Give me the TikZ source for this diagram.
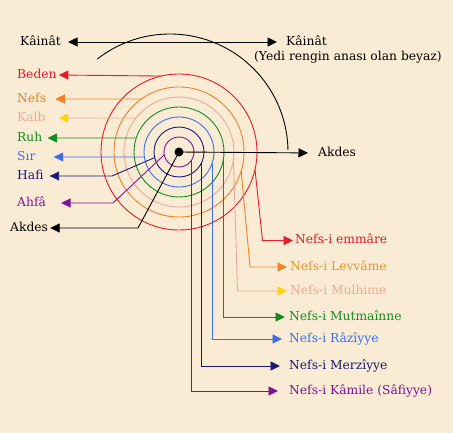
\documentclass[tikz,border=0pt]{standalone}
\usepackage{fontspec}
\setmainfont{DejaVu Serif}
\usetikzlibrary{arrows.meta,calc}
\definecolor{bg}{RGB}{250,236,212}
\definecolor{kred}{RGB}{232,28,36}
\definecolor{korange}{RGB}{244,128,40}
\definecolor{klevv}{RGB}{236,150,50}
\definecolor{kpink}{RGB}{240,168,150}
\definecolor{kyellow}{RGB}{255,214,0}
\definecolor{kgreen}{RGB}{20,140,30}
\definecolor{kblue}{RGB}{60,110,235}
\definecolor{knavy}{RGB}{25,25,120}
\definecolor{kpurple}{RGB}{125,20,150}
\tikzstyle{lbl} = [inner sep=0pt, anchor=west, text height=9pt, text depth=2.5pt, font=\fontsize{12.3}{14}\selectfont]
\tikzstyle{ring} = [line width=0.9pt]
\tikzstyle{arrow} = [line width=0.9pt, -{Triangle[length=9.5pt,width=9pt]}]

\begin{document}
\begin{tikzpicture}[x=1pt,y=-1pt]
        \fill[bg] (0,0) rectangle (453,433);
        \useasboundingbox (0,0) rectangle (453,433);
        \coordinate (c) at (179,152);

        % rings
        \foreach \r/\col in {78/kred,65/korange,55/kpink,45/kgreen,35/kblue,25/knavy,15/kpurple}
            \draw[ring,\col] (c) circle (\r);
        \draw[ring] ($(170,152)+(232:118)$) arc[start angle=232,end angle=359,radius=118];

        % labels
        \node[lbl] (kainatL) at (20,42) {Kâinât};
        \node[lbl] (kainatR) at (286,42) {Kâinât};
        \node[lbl] (yedi) at (254,57) {(Yedi rengin anası olan beyaz)};
        \node[lbl] (akdesR) at (318,153) {Akdes};
        \node[lbl,text=kred] (beden) at (17,75) {Beden};
        \node[lbl,text=korange] (nefs) at (17,99) {Nefs};
        \node[lbl,text=kpink] (kalb) at (17,118) {Kalb};
        \node[lbl,text=kgreen] (ruh) at (17,138) {Ruh};
        \node[lbl,text=kblue] (sir) at (17,157) {Sır};
        \node[lbl,text=knavy] (hafi) at (17,176) {Hafi};
        \node[lbl,text=kpurple] (ahfa) at (17,203) {Ahfâ};
        \node[lbl] (akdesL) at (10,228) {Akdes};
        \node[lbl,text=kred] (emmare) at (295,240.5) {Nefs-i emmâre};
        \node[lbl,text=klevv] (levvame) at (290,267) {Nefs-i Levvâme};
        \node[lbl,text=kpink] (mulhime) at (290,291) {Nefs-i Mulhime};
        \node[lbl,text=kgreen] (mutmainne) at (289,317) {Nefs-i Mutmaînne};
        \node[lbl,text=kblue] (raziyye) at (289,339) {Nefs-i Râzîyye};
        \node[lbl,text=knavy] (merziyye) at (289,366) {Nefs-i Merzîyye};
        \node[lbl,text=kpurple] (kamile) at (289,391) {Nefs-i Kâmile (Sâfiyye)};

        % black arrows
        \draw[arrow, {Triangle[length=9.5pt,width=9pt]}-{Triangle[length=9.5pt,width=9pt]}, shorten <=7pt, shorten >=9pt] (kainatL.east) -- (kainatR.west);
        \draw[arrow, shorten >=10pt] (c) -- (akdesR.west);
        \draw[arrow, shorten >=2pt] (c) -- (138,228) -- (akdesL.east);
        \fill (c) circle (4.5);

        % left arrows
        \draw[arrow,kred, shorten >=2pt] ($(c)+(256.9:78)$) -- (beden.east);
        \draw[arrow,korange, shorten >=9pt] ($(c)+(234.6:65)$) -- (nefs.east);
        \draw[arrow,kpink,-{Triangle[length=9.5pt,width=9pt,color=kyellow]}, shorten >=13pt] ($(c)+(218.2:55)$) -- (kalb.east);
        \draw[arrow,kgreen, shorten >=5pt] ($(c)+(198.1:45)$) -- (ruh.east);
        \draw[arrow,kblue, shorten >=18pt] ($(c)+(171.8:35)$) -- (sir.east);
        \draw[arrow,knavy, shorten >=6pt] ($(c)+(167:25)$) -- (112,176) -- (hafi.east);
        \draw[arrow,kpurple, shorten >=15pt] ($(c)+(169:15)$) -- (113,203) -- (ahfa.east);

        % right arrows
        \draw[arrow,kred, shorten >=2pt] ($(c)+(13:78)$) -- (262.5,240.5) -- (emmare.west);
        \draw[arrow,korange, shorten >=3pt] ($(c)+(17:65)$) -- (250,267) -- (levvame.west);
        \draw[arrow,kpink,-{Triangle[length=9.5pt,width=9pt,color=kyellow]}, shorten >=3pt] ($(c)+(8:55)$) -- (237.5,291) -- (mulhime.west);
        \draw[arrow,kgreen, shorten >=4pt] ($(c)+(8.5:45)$) |- (mutmainne.west);
        \draw[arrow,kblue, shorten >=7pt] ($(c)+(19.5:35)$) |- (raziyye.west);
        \draw[arrow,knavy, shorten >=9pt] ($(c)+(26:25)$) |- (merziyye.west);
        \draw[arrow,kpurple, shorten >=11pt] ($(c)+(34:15)$) |- (kamile.west);
\end{tikzpicture}
\end{document}
